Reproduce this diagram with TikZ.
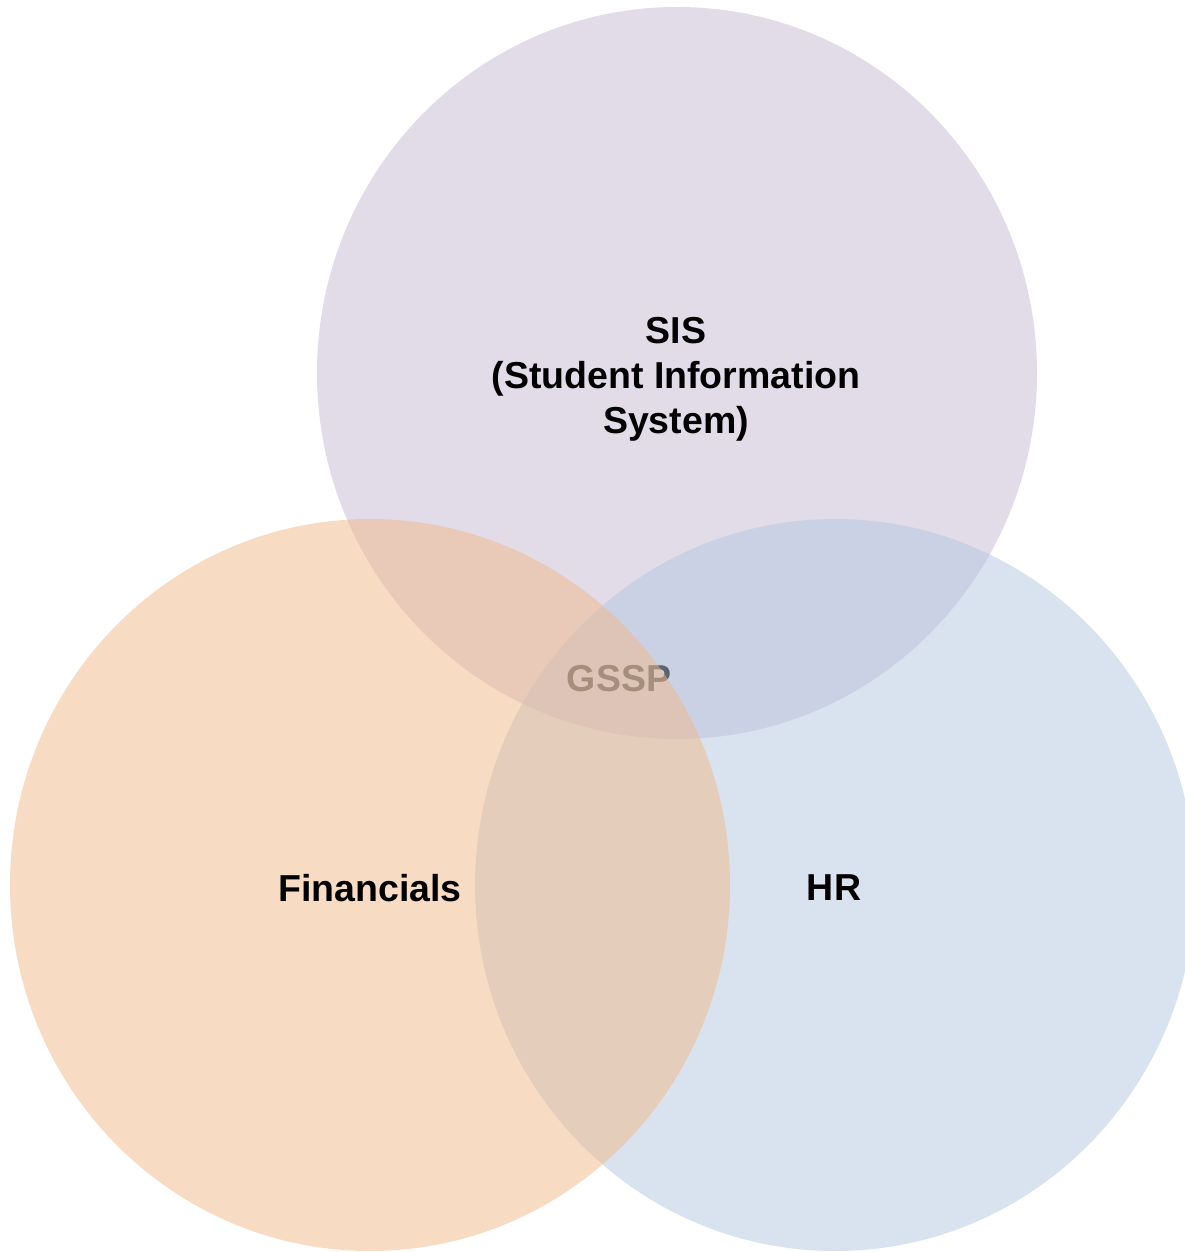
\documentclass[tikz,border=0pt]{standalone}
\usepackage{fontspec}
\setmainfont{Liberation Sans}
\definecolor{sisc}{RGB}{199,187,213}
\definecolor{finc}{RGB}{241,185,137}
\definecolor{hrc}{RGB}{181,199,225}
\begin{document}
\begin{tikzpicture}[x=1pt,y=-1pt,
  set/.style={fill opacity=0.5, draw=none},
  lab/.style={font=\fontsize{37.5}{45}\selectfont\bfseries, align=center, inner sep=0pt}]
\useasboundingbox (0,0) rectangle (1185,1252);
\fill[white] (0,0) rectangle (1185,1252);
\fill[set, sisc] (677,373) ellipse [x radius=360, y radius=366];
\node[lab, text=black] (gssp) at (619,679) {GSSP};
\fill[set, hrc] (835,885) ellipse [x radius=360, y radius=366];
\fill[set, finc] (370,885) ellipse [x radius=360, y radius=366];
\node[lab] (sis) at (676,379) {SIS\\(Student Information\\System)};
\node[lab] (fin) at (370,888) {Financials};
\node[lab] (hr) at (834,888) {HR};
\end{tikzpicture}
\end{document}
